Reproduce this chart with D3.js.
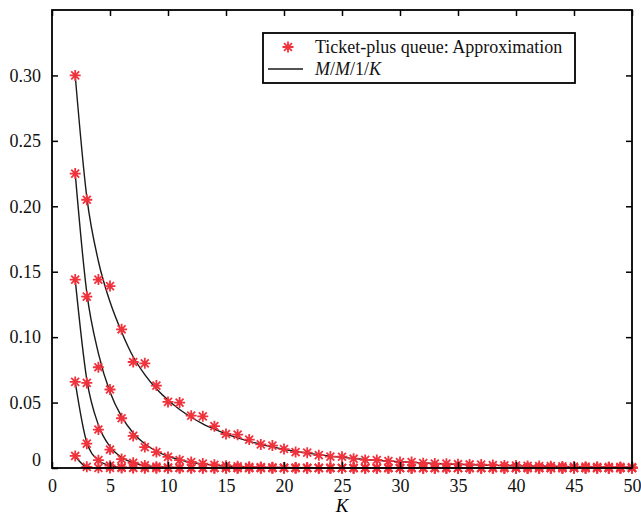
<!DOCTYPE html>
<html>
<head>
<meta charset="utf-8">
<script src="https://cdn.jsdelivr.net/npm/d3@7"></script>
<style>
body{margin:0;background:#fff}
svg{display:block}
text{font-family:"Liberation Serif","Times New Roman",serif}
</style>
</head>
<body>
<svg class="chart" width="641" height="521"></svg>
<script>
// K values (buffer size)
var K = [2,3,4,5,6,7,8,9,10,11,12,13,14,15,16,17,18,19,20,21,22,23,24,25,26,
         27,28,29,30,31,32,33,34,35,36,37,38,39,40,41,42,43,44,45,46,47,48,49,50];

// M/M/1/K curves (black lines)
var mm1kA = [0.300,0.207,0.158,0.127,0.104,0.085,0.0714,0.0605,0.0519,0.0447,0.0388,0.0338,0.0297,0.0261,0.0230,
             0.0204,0.0181,0.0161,0.0143,0.0127,0.0114,0.0102,0.0091,0.0081,0.0073,0.0065,0.0059,0.0053,0.0048,
             0.0043,0.0038,0.0035,0.0031,0.0028,0.0025,0.0023,0.0020,0.0018,0.0017,0.0015,0.0014,0.0012,0.0011,
             0.0010,0.0009,0.0008,0.0007,0.0007,0.0006];
var mm1kB = [0.225,0.134,0.0876,0.058,0.0392,0.0268,0.0185,0.0128,0.0090,0.0063,0.0044,0.0030,0.0021,0.0015,0.0011,
             0.0007,0.0005,0.0004,0.0003,0.0002,0.0001,0.0001,0.0001,0,0,0,0,0,0,0,0,0,0,0,0,0,0,0,0,0,0,0,0,0,0,0,0,0,0];
var mm1kC = [0.144,0.0676,0.0329,0.0163,0.0081,0.0040,0.0020,0.0010,0.0005,0.0003,0.0001,0,0,0,0,0,0,0,0,0,0,0,0,0,0,
             0,0,0,0,0,0,0,0,0,0,0,0,0,0,0,0,0,0,0,0,0,0,0,0];
var mm1kD = [0.0658,0.0195,0.0059,0.0018,0.0005,0.0002,0.0001,0,0,0,0,0,0,0,0,0,0,0,0,0,0,0,0,0,0,
             0,0,0,0,0,0,0,0,0,0,0,0,0,0,0,0,0,0,0,0,0,0,0,0];
var mm1kE = [0.0090,0.0009,0.0001,0,0,0,0,0,0,0,0,0,0,0,0,0,0,0,0,0,0,0,0,0,0,
             0,0,0,0,0,0,0,0,0,0,0,0,0,0,0,0,0,0,0,0,0,0,0,0];

// Ticket-plus queue approximation (red markers)
var approxA = [0.300,0.205,0.144,0.139,0.106,0.081,0.080,0.063,0.0505,0.050,0.040,0.0395,0.032,0.026,0.0255,
               0.0217,0.018,0.0171,0.0145,0.0122,0.0117,0.0098,0.0087,0.0086,0.0071,0.0062,0.0061,0.0052,0.0045,
               0.0045,0.0037,0.0034,0.0033,0.0029,0.0027,0.0026,0.0022,0.0020,0.0019,0.0016,0.0015,0.0014,0.0012,
               0.0011,0.0010,0.0009,0.0008,0.0008,0.0007];
var approxB = [0.225,0.131,0.077,0.060,0.038,0.0245,0.016,0.0122,0.0085,0.0060,0.0046,0.0034,0.0025,0.0018,0.0013,
               0.0009,0.0007,0.0005,0.0004,0.0003,0.0002,0.0001,0.0001,0,0,0,0,0,0,0,0,0,0,0,0,0,0,0,0,0,0,0,0,0,0,0,0,0,0];
var approxC = [0.144,0.065,0.0294,0.0141,0.0068,0.0040,0.0020,0.0010,0.0005,0.0002,0.0001,0,0,0,0,0,0,0,0,0,0,0,0,0,0,
               0,0,0,0,0,0,0,0,0,0,0,0,0,0,0,0,0,0,0,0,0,0,0,0];
var approxD = [0.0658,0.0186,0.0060,0.0018,0.0006,0.0002,0,0,0,0,0,0,0,0,0,0,0,0,0,0,0,0,0,0,0,
               0,0,0,0,0,0,0,0,0,0,0,0,0,0,0,0,0,0,0,0,0,0,0,0];
var approxE = [0.0092,0.0009,0.0001,0,0,0,0,0,0,0,0,0,0,0,0,0,0,0,0,0,0,0,0,0,0,
               0,0,0,0,0,0,0,0,0,0,0,0,0,0,0,0,0,0,0,0,0,0,0,0];

var xTicks = [0,5,10,15,20,25,30,35,40,45,50];
var yTicks = [0,0.05,0.10,0.15,0.20,0.25,0.30];

var lines = [mm1kA, mm1kB, mm1kC, mm1kD, mm1kE];
var approx = [approxA, approxB, approxC, approxD, approxE];

var svg = d3.select(".chart"),
    margin = {top: 10, right: 9, bottom: 53, left: 52},
    width = +svg.attr("width") - margin.left - margin.right,
    height = +svg.attr("height") - margin.top - margin.bottom,
    g = svg.append("g").attr("transform", "translate(" + margin.left + "," + margin.top + ")");

var x = d3.scaleLinear().domain([0, 50]).range([0, width]);
var y = d3.scaleLinear().domain([0, 0.35]).range([height, 0]);

var red = "#f0323c";

var line = d3.line()
    .x(function(d, i) { return x(K[i]); })
    .y(function(d) { return y(d); })
    .curve(d3.curveMonotoneX);

g.selectAll(".mm1k")
    .data(lines)
  .enter().append("path")
    .attr("class", "mm1k")
    .attr("fill", "none")
    .attr("stroke", "#1a1a1a")
    .attr("stroke-width", 1.4)
    .attr("d", line);

// asterisk marker (+ and x)
function star(r) {
  var d = r * 0.72;
  return "M" + (-r) + ",0L" + r + ",0M0," + (-r) + "L0," + r +
         "M" + (-d) + "," + (-d) + "L" + d + "," + d +
         "M" + (-d) + "," + d + "L" + d + "," + (-d);
}

approx.forEach(function(series) {
  g.selectAll(null)
      .data(series)
    .enter().append("path")
      .attr("d", star(5.5))
      .attr("transform", function(d, i) { return "translate(" + x(K[i]) + "," + y(d) + ")"; })
      .attr("stroke", red)
      .attr("stroke-width", 1.8)
      .attr("fill", "none");
});

// axes box with inward ticks
var fmt = function(v) { return v === 0 ? "0" : d3.format(".2f")(v); };

var xAxis = g.append("g")
    .attr("transform", "translate(0," + height + ")")
    .call(d3.axisBottom(x).tickValues(xTicks).tickSizeInner(-6).tickSizeOuter(0).tickPadding(11).tickFormat(d3.format("d")));
var yAxis = g.append("g")
    .call(d3.axisLeft(y).tickValues(yTicks).tickSizeInner(-6).tickSizeOuter(0).tickPadding(11).tickFormat(fmt));
g.append("g")
    .call(d3.axisTop(x).tickValues(xTicks).tickSizeInner(-6).tickSizeOuter(0).tickFormat(""));
g.append("g")
    .attr("transform", "translate(" + width + ",0)")
    .call(d3.axisRight(y).tickValues(yTicks).tickSizeInner(-6).tickSizeOuter(0).tickFormat(""));

g.selectAll(".domain").remove();
g.selectAll(".tick line").attr("stroke", "#000").attr("stroke-width", 1.5);
g.selectAll(".tick text").attr("font-size", 18).attr("fill", "#111")
    .style("font-family", '"Liberation Serif","Times New Roman",serif');
yAxis.selectAll(".tick text").filter(function(d) { return d === 0; }).attr("dy", "-0.15em");

g.append("rect")
    .attr("width", width)
    .attr("height", height)
    .attr("fill", "none")
    .attr("stroke", "#000")
    .attr("stroke-width", 1.8);

// x label
svg.append("text")
    .attr("x", margin.left + x(25))
    .attr("y", 512)
    .attr("text-anchor", "middle")
    .attr("font-size", 19)
    .attr("font-style", "italic")
    .text("K");

// legend
var lg = svg.append("g").attr("transform", "translate(263,33)");
lg.append("rect")
    .attr("width", 312)
    .attr("height", 50)
    .attr("fill", "#fff")
    .attr("stroke", "#000")
    .attr("stroke-width", 1.8);
lg.append("path")
    .attr("d", star(5.5))
    .attr("transform", "translate(25,14)")
    .attr("stroke", red)
    .attr("stroke-width", 1.8)
    .attr("fill", "none");
lg.append("text")
    .attr("x", 52)
    .attr("y", 20)
    .attr("font-size", 18)
    .attr("fill", "#111")
    .text("Ticket-plus queue: Approximation");
lg.append("line")
    .attr("x1", 5).attr("x2", 40)
    .attr("y1", 36).attr("y2", 36)
    .attr("stroke", "#1a1a1a")
    .attr("stroke-width", 1.4);
var t2 = lg.append("text")
    .attr("x", 52)
    .attr("y", 42)
    .attr("font-size", 18)
    .attr("fill", "#111");
t2.append("tspan").attr("font-style", "italic").text("M");
t2.append("tspan").text("/");
t2.append("tspan").attr("font-style", "italic").text("M");
t2.append("tspan").text("/1/");
t2.append("tspan").attr("font-style", "italic").text("K");
</script>
</body>
</html>
